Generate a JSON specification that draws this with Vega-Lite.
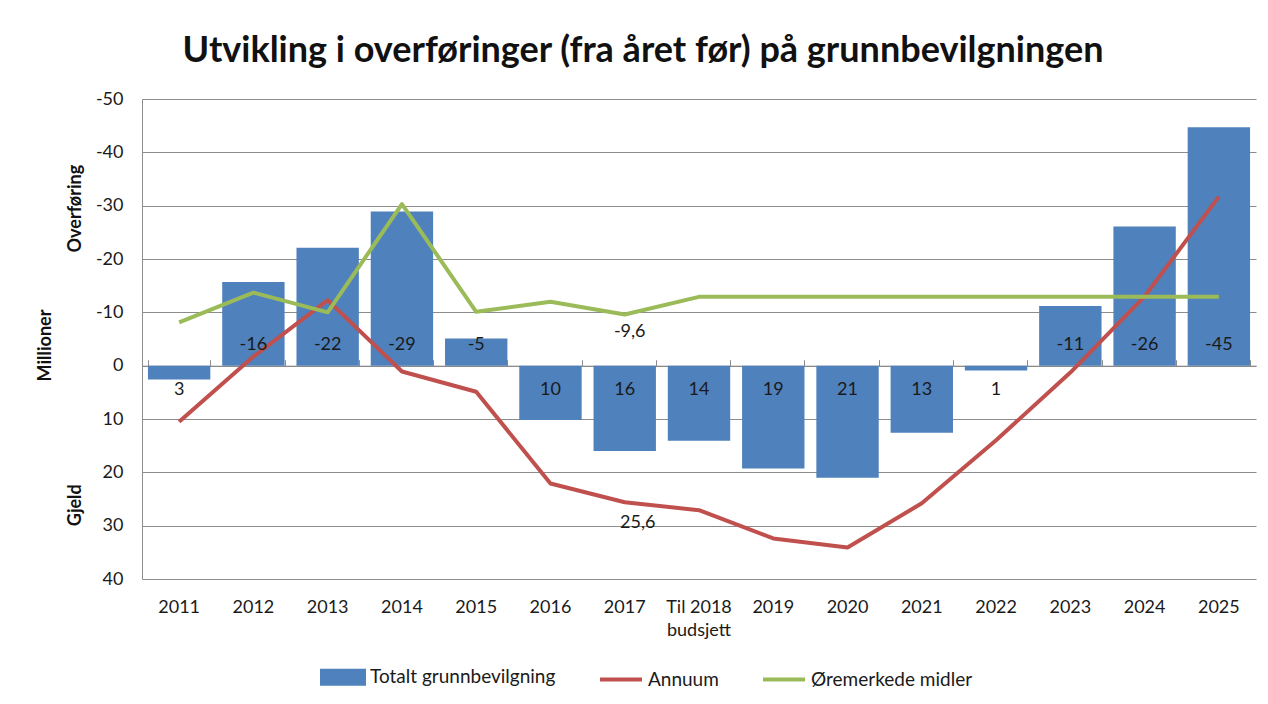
{
  "$schema": "https://vega.github.io/schema/vega-lite/v6.json",
  "width": 1114,
  "height": 480,
  "autosize": {"type": "none"},
  "padding": {"left": 142, "top": 99, "right": 12, "bottom": 125},
  "background": "white",
  "title": {
    "text": "Utvikling i overføringer (fra året før) på grunnbevilgningen",
    "font": "Lato", "fontSize": 36, "fontWeight": "bold", "color": "#111111",
    "anchor": "middle", "dx": -56, "offset": 20
  },
  "config": {
    "locale": {"number": {"decimal": ",", "thousands": " ", "grouping": [3], "currency": ["", ""], "minus": "-"}},
    "view": {"stroke": null},
    "font": "Lato",
    "text": {"font": "Lato", "fontSize": 18, "color": "#1a1a1a"}
  },
  "resolve": {"axis": {"x": "independent"}},
  "data": {
    "values": [
      {"år": "2011", "grunnbevilgning": 2.6, "annuum": 10.5, "oremerket": -8.1},
      {"år": "2012", "grunnbevilgning": -15.7, "annuum": -1.7, "oremerket": -13.7},
      {"år": "2013", "grunnbevilgning": -22.1, "annuum": -12.3, "oremerket": -10.0},
      {"år": "2014", "grunnbevilgning": -28.9, "annuum": 1.1, "oremerket": -30.3},
      {"år": "2015", "grunnbevilgning": -5.1, "annuum": 4.9, "oremerket": -10.1},
      {"år": "2016", "grunnbevilgning": 10.2, "annuum": 22.1, "oremerket": -12.0},
      {"år": "2017", "grunnbevilgning": 16.0, "annuum": 25.6, "oremerket": -9.6},
      {"år": "Til 2018 budsjett", "grunnbevilgning": 14.1, "annuum": 27.1, "oremerket": -12.9},
      {"år": "2019", "grunnbevilgning": 19.3, "annuum": 32.4, "oremerket": -12.9},
      {"år": "2020", "grunnbevilgning": 21.0, "annuum": 34.1, "oremerket": -12.9},
      {"år": "2021", "grunnbevilgning": 12.6, "annuum": 25.8, "oremerket": -12.9},
      {"år": "2022", "grunnbevilgning": 0.9, "annuum": 14.0, "oremerket": -12.9},
      {"år": "2023", "grunnbevilgning": -11.2, "annuum": 1.3, "oremerket": -12.9},
      {"år": "2024", "grunnbevilgning": -26.1, "annuum": -13.0, "oremerket": -12.9},
      {"år": "2025", "grunnbevilgning": -44.7, "annuum": -31.7, "oremerket": -12.9}
    ]
  },
  "layer": [
    {
      "mark": {"type": "bar", "color": "#4F81BD"},
      "encoding": {
        "x": {
          "field": "år", "type": "nominal", "sort": null,
          "scale": {"paddingInner": 0.16, "paddingOuter": 0.08},
          "axis": {
            "orient": "bottom", "title": null, "labelAngle": 0, "labelFont": "Lato", "labelFontSize": 18,
            "labelColor": "#1a1a1a", "labelPadding": 19, "ticks": false, "tickSize": 0, "domain": false,
            "labelLineHeight": 23,
            "labelExpr": "datum.value == 'Til 2018 budsjett' ? ['Til 2018', 'budsjett'] : datum.value"
          }
        },
        "y": {
          "field": "grunnbevilgning", "type": "quantitative",
          "scale": {"domain": [-50, 40], "reverse": true, "nice": false, "zero": true},
          "axis": {
            "values": [-50, -40, -30, -20, -10, 0, 10, 20, 30, 40],
            "grid": true, "gridColor": "#8c8c8c", "gridOpacity": 1, "gridWidth": 1,
            "domain": true, "domainColor": "#8c8c8c", "ticks": false, "tickSize": 0,
            "labelFont": "Lato", "labelFontSize": 18, "labelColor": "#1a1a1a", "labelPadding": 19,
            "title": ["Millioner", "Gjeld\u00a0\u00a0\u00a0\u00a0\u00a0\u00a0\u00a0\u00a0\u00a0\u00a0\u00a0\u00a0\u00a0\u00a0\u00a0\u00a0\u00a0\u00a0\u00a0\u00a0\u00a0\u00a0\u00a0\u00a0\u00a0\u00a0\u00a0\u00a0\u00a0\u00a0\u00a0\u00a0\u00a0\u00a0\u00a0\u00a0\u00a0\u00a0\u00a0\u00a0\u00a0\u00a0\u00a0\u00a0\u00a0\u00a0\u00a0\u00a0\u00a0\u00a0\u00a0\u00a0\u00a0Overføring"],
            "titleFont": "Lato", "titleFontSize": 18, "titleFontWeight": "bold", "titleColor": "#111111",
            "titleAngle": -90, "titleAlign": "center", "titleBaseline": "middle",
            "titleLineHeight": 30, "titleX": -97, "titleY": 246
          }
        },
        "color": {
          "datum": "Totalt grunnbevilgning", "type": "nominal",
          "scale": {"domain": ["Totalt grunnbevilgning", "Annuum", "Øremerkede midler"], "range": ["#4F81BD", "#C0504D", "#9BBB59"]},
          "legend": {
            "orient": "none", "legendX": 178, "legendY": 555, "direction": "horizontal", "title": null,
            "labelFont": "Lato", "labelFontSize": 19, "labelColor": "#1a1a1a", "labelLimit": 500,
            "symbolSize": 1764, "labelOffset": 4, "columnPadding": 36,
            "symbolType": "stroke", "symbolStrokeWidth": 4,
            "encode": {
              "symbols": {
                "update": {
                  "shape": {"signal": "datum.value === 'Totalt grunnbevilgning' ? 'M-1,-0.31H1V0.31H-1Z' : 'stroke'"},
                  "fill": {"signal": "datum.value === 'Totalt grunnbevilgning' ? '#4F81BD' : 'transparent'"},
                  "stroke": {"signal": "datum.value === 'Totalt grunnbevilgning' ? 'transparent' : (datum.value === 'Annuum' ? '#C0504D' : '#9BBB59')"},
                  "strokeWidth": {"value": 4},
                  "opacity": {"value": 1}
                }
              }
            }
          }
        }
      }
    },
    {
      "mark": {"type": "line", "strokeWidth": 4, "strokeJoin": "round"},
      "encoding": {
        "x": {
          "field": "år", "type": "nominal", "sort": null,
          "axis": {
            "orient": "top", "offset": -266.7, "title": null, "labels": false, "grid": false,
            "ticks": true, "tickBand": "extent", "tickSize": 6, "tickColor": "#8c8c8c",
            "domain": true, "domainColor": "#8c8c8c"
          }
        },
        "y": {"field": "annuum", "type": "quantitative"},
        "color": {"datum": "Annuum", "type": "nominal"}
      }
    },
    {
      "mark": {"type": "line", "strokeWidth": 4, "strokeJoin": "round"},
      "encoding": {
        "x": {"field": "år", "type": "nominal", "sort": null, "axis": null},
        "y": {"field": "oremerket", "type": "quantitative"},
        "color": {"datum": "Øremerkede midler", "type": "nominal"}
      }
    },
    {
      "transform": [{"filter": "datum.grunnbevilgning < 0"}],
      "mark": {"type": "text", "baseline": "middle", "align": "center", "dy": -21},
      "encoding": {
        "x": {"field": "år", "type": "nominal", "sort": null, "axis": null},
        "y": {"datum": 0, "type": "quantitative"},
        "text": {"field": "grunnbevilgning", "type": "quantitative", "format": ".0f"}
      }
    },
    {
      "transform": [{"filter": "datum.grunnbevilgning >= 0"}],
      "mark": {"type": "text", "baseline": "middle", "align": "center", "dy": 24},
      "encoding": {
        "x": {"field": "år", "type": "nominal", "sort": null, "axis": null},
        "y": {"datum": 0, "type": "quantitative"},
        "text": {"field": "grunnbevilgning", "type": "quantitative", "format": ".0f"}
      }
    },
    {
      "transform": [{"filter": "datum['år'] == '2017'"}],
      "mark": {"type": "text", "baseline": "middle", "align": "center", "dy": 18, "dx": 5},
      "encoding": {
        "x": {"field": "år", "type": "nominal", "sort": null, "axis": null},
        "y": {"field": "oremerket", "type": "quantitative"},
        "text": {"field": "oremerket", "type": "quantitative", "format": ".1f"}
      }
    },
    {
      "transform": [{"filter": "datum['år'] == '2017'"}],
      "mark": {"type": "text", "baseline": "middle", "align": "center", "dy": 21, "dx": 13},
      "encoding": {
        "x": {"field": "år", "type": "nominal", "sort": null, "axis": null},
        "y": {"field": "annuum", "type": "quantitative"},
        "text": {"field": "annuum", "type": "quantitative", "format": ".1f"}
      }
    }
  ]
}
